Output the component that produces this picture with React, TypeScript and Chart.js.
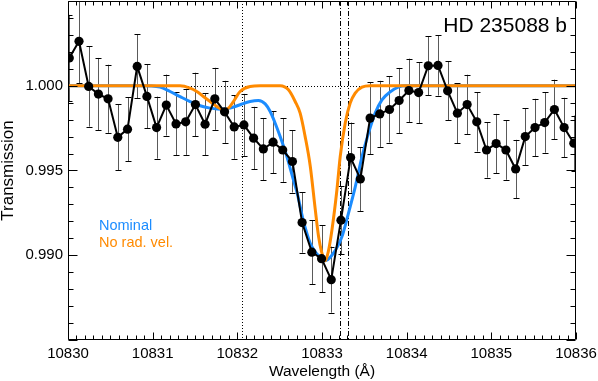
import React, { useEffect, useRef } from 'react';
import { Chart, registerables } from 'chart.js';

Chart.register(...registerables);

// Observed data (wavelength in Å, transmission, 1-sigma error)
const wavelength = [
  10830.015, 10830.130, 10830.244, 10830.359, 10830.473, 10830.588, 10830.703, 10830.817, 10830.932, 10831.046,
  10831.161, 10831.276, 10831.390, 10831.505, 10831.619, 10831.734, 10831.849, 10831.963, 10832.078, 10832.192,
  10832.307, 10832.422, 10832.536, 10832.651, 10832.765, 10832.880, 10832.995, 10833.109, 10833.224, 10833.338,
  10833.453, 10833.568, 10833.682, 10833.797, 10833.911, 10834.026, 10834.141, 10834.255, 10834.370, 10834.484,
  10834.599, 10834.714, 10834.828, 10834.943, 10835.057, 10835.172, 10835.287, 10835.401, 10835.516, 10835.630,
  10835.745, 10835.860, 10835.974,
];
const transmission = [
  1.00164, 1.00262, 0.99996, 0.99951, 0.99923, 0.99696, 0.99744, 1.00114, 0.99937, 0.99753,
  0.99886, 0.99775, 0.99787, 0.99889, 0.99773, 0.99923, 0.99846, 0.99757, 0.99769, 0.99691,
  0.99627, 0.99667, 0.99621, 0.99553, 0.99193, 0.99018, 0.98980, 0.98856, 0.99207, 0.99576,
  0.99450, 0.99809, 0.99834, 0.99860, 0.99913, 0.99972, 0.99960, 1.00118, 1.00120, 0.99970,
  0.99838, 0.99889, 0.99787, 0.99621, 0.99659, 0.99621, 0.99509, 0.99700, 0.99753, 0.99783,
  0.99860, 0.99753, 0.99661,
];
const transErr = [
  0.00254, 0.00248, 0.00237, 0.00213, 0.00201, 0.00195, 0.00189, 0.00189, 0.00189, 0.00183,
  0.00180, 0.00186, 0.00195, 0.00188, 0.00183, 0.00183, 0.00183, 0.00188, 0.00183, 0.00185,
  0.00183, 0.00183, 0.00188, 0.00183, 0.00178, 0.00188, 0.00197, 0.00195, 0.00201, 0.00207,
  0.00189, 0.00213, 0.00195, 0.00195, 0.00192, 0.00188, 0.00180, 0.00175, 0.00178, 0.00175,
  0.00178, 0.00176, 0.00175, 0.00163, 0.00175, 0.00176, 0.00172, 0.00167, 0.00170, 0.00178,
  0.00176, 0.00176, 0.00163,
];

// Model: Nominal
const nominalWave = [
  10830.000, 10830.851, 10831.087, 10831.206, 10831.324, 10831.442, 10831.560, 10831.678, 10831.797, 10831.915,
  10832.033, 10832.151, 10832.249, 10832.329, 10832.388, 10832.447, 10832.506, 10832.585, 10832.663, 10832.707,
  10832.778, 10832.861, 10832.943, 10833.026, 10833.117, 10833.235, 10833.313, 10833.392, 10833.472, 10833.550,
  10833.629, 10833.708, 10833.806, 10833.901, 10833.983, 10836.000,
];
const nominalTrans = [
  1.00000, 1.00000, 0.99992, 0.99966, 0.99936, 0.99907, 0.99882, 0.99868, 0.99862, 0.99868,
  0.99888, 0.99907, 0.99913, 0.99893, 0.99848, 0.99779, 0.99700, 0.99582, 0.99443, 0.99367,
  0.99207, 0.99071, 0.99006, 0.98967, 0.99000, 0.99109, 0.99249, 0.99402, 0.99580, 0.99722,
  0.99840, 0.99917, 0.99964, 0.99992, 1.00000, 1.00000,
];

// Model: No radial velocity
const noRvWave = [
  10830.000, 10831.324, 10831.442, 10831.521, 10831.599, 10831.678, 10831.758, 10831.829, 10831.895, 10831.954,
  10832.033, 10832.151, 10832.270, 10832.506, 10832.604, 10832.683, 10832.742, 10832.801, 10832.861, 10832.920,
  10832.959, 10832.996, 10833.038, 10833.073, 10833.117, 10833.176, 10833.215, 10833.274, 10833.333, 10833.392,
  10833.472, 10833.570, 10836.000,
];
const noRvTrans = [
  1.00000, 1.00000, 0.99986, 0.99966, 0.99937, 0.99907, 0.99877, 0.99858, 0.99868, 0.99907,
  0.99966, 0.99996, 1.00000, 1.00000, 0.99976, 0.99907, 0.99838, 0.99700, 0.99527, 0.99272,
  0.99112, 0.99018, 0.98967, 0.99018, 0.99148, 0.99385, 0.99582, 0.99779, 0.99898, 0.99957,
  0.99992, 1.00000, 1.00000,
];

// He I triplet line positions (Å)
const dottedLines = [10832.057];
const dashDotLines = [10833.217, 10833.306];

const xTickValues = [10830, 10831, 10832, 10833, 10834, 10835, 10836];
const yTickValues = [0.990, 0.995, 1.000];
const yTickLabels = ['0.990', '0.995', '1.000'];

const titleText = 'HD 235088 b';
const legendNames = ['Nominal', 'No rad. vel.'];
const BLUE = '#1b8cff';
const ORANGE = '#ff8a00';
const FONT = "'Liberation Sans', Arial, Helvetica, sans-serif";

const zeroPad = (s: any) => {
  s.paddingLeft = 0;
  s.paddingRight = 0;
  s.paddingTop = 0;
  s.paddingBottom = 0;
};

export default function App() {
  const ref = useRef<HTMLCanvasElement>(null);

  useEffect(() => {
    document.body.style.margin = '0';
    const canvas = ref.current;
    if (!canvas) return;

    const idlPlugin = {
      id: 'idlDecor',
      beforeDatasetsDraw(chart: any) {
        const { ctx, chartArea: a, scales } = chart;
        const x = scales.x;
        const y = scales.y;
        ctx.save();
        ctx.beginPath();
        ctx.rect(a.left, a.top, a.right - a.left, a.bottom - a.top);
        ctx.clip();
        ctx.strokeStyle = '#000';
        ctx.lineWidth = 1;
        // horizontal dotted at 1.000
        ctx.setLineDash([1, 2]);
        const y1 = Math.round(y.getPixelForValue(1)) + 0.5;
        ctx.beginPath();
        ctx.moveTo(a.left, y1);
        ctx.lineTo(a.right, y1);
        ctx.stroke();
        for (const w of dottedLines) {
          const px = Math.round(x.getPixelForValue(w)) + 0.5;
          ctx.beginPath();
          ctx.moveTo(px, a.top);
          ctx.lineTo(px, a.bottom);
          ctx.stroke();
        }
        ctx.setLineDash([5, 2, 1, 2]);
        for (const w of dashDotLines) {
          const px = Math.round(x.getPixelForValue(w)) + 0.5;
          ctx.beginPath();
          ctx.moveTo(px, a.top);
          ctx.lineTo(px, a.bottom);
          ctx.stroke();
        }
        ctx.setLineDash([]);
        // error bars
        for (let i = 0; i < wavelength.length; i++) {
          const px = Math.round(x.getPixelForValue(wavelength[i])) + 0.5;
          const top = y.getPixelForValue(transmission[i] + transErr[i]);
          const bot = y.getPixelForValue(transmission[i] - transErr[i]);
          ctx.strokeStyle = '#5a5a5a';
          ctx.beginPath();
          ctx.moveTo(px, top);
          ctx.lineTo(px, bot);
          ctx.stroke();
          ctx.strokeStyle = '#000';
          ctx.beginPath();
          const t = Math.round(top) + 0.5;
          const b = Math.round(bot) + 0.5;
          ctx.moveTo(px - 3, t);
          ctx.lineTo(px + 3, t);
          ctx.moveTo(px - 3, b);
          ctx.lineTo(px + 3, b);
          ctx.stroke();
        }
        ctx.restore();
      },
      afterDraw(chart: any) {
        const { ctx, chartArea: a, scales } = chart;
        const x = scales.x;
        const y = scales.y;
        ctx.save();
        ctx.strokeStyle = '#000';
        ctx.lineWidth = 1;
        const L = Math.round(a.left) + 0.5;
        const R = Math.round(a.right) - 0.5;
        const T = Math.round(a.top) + 0.5;
        const B = Math.round(a.bottom) - 0.5;
        ctx.beginPath();
        ctx.rect(L, T, R - L, B - T);
        ctx.stroke();
        ctx.beginPath();
        // x ticks (inward, top & bottom)
        for (let k = 0; k <= 60; k++) {
          const v = 10830 + k * 0.1;
          const px = Math.round(x.getPixelForValue(v)) + 0.5;
          const len = k % 10 === 0 ? 7 : 4;
          ctx.moveTo(px, B);
          ctx.lineTo(px, B - len);
          ctx.moveTo(px, T);
          ctx.lineTo(px, T + len);
        }
        // y ticks (inward, left & right)
        for (let k = 0; k <= 20; k++) {
          const v = 0.985 + k * 0.001;
          const py = Math.round(y.getPixelForValue(v)) + 0.5;
          const len = k % 5 === 0 ? 9 : 5;
          ctx.moveTo(L, py);
          ctx.lineTo(L + len, py);
          ctx.moveTo(R, py);
          ctx.lineTo(R - len, py);
        }
        ctx.stroke();
        // title
        ctx.fillStyle = '#000';
        ctx.font = `21px ${FONT}`;
        ctx.textAlign = 'right';
        ctx.textBaseline = 'alphabetic';
        ctx.fillText(titleText, 567, 32);
        // legend text
        ctx.font = `14.5px ${FONT}`;
        ctx.textAlign = 'left';
        ctx.fillStyle = BLUE;
        ctx.fillText(legendNames[0], 99, 229.5);
        ctx.fillStyle = ORANGE;
        ctx.fillText(legendNames[1], 99, 247);
        ctx.restore();
      },
    };

    const chart = new Chart(canvas, {
      type: 'line',
      data: {
        datasets: [
          {
            label: 'Data',
            data: wavelength.map((w, i) => ({ x: w, y: transmission[i] })),
            borderColor: '#000',
            backgroundColor: '#000',
            borderWidth: 2,
            pointRadius: 4.6,
            pointBorderWidth: 0,
            pointBackgroundColor: '#000',
            tension: 0,
          },
          {
            label: legendNames[1],
            data: noRvWave.map((w, i) => ({ x: w, y: noRvTrans[i] })),
            borderColor: ORANGE,
            borderWidth: 3,
            pointRadius: 0,
            cubicInterpolationMode: 'monotone',
          },
          {
            label: legendNames[0],
            data: nominalWave.map((w, i) => ({ x: w, y: nominalTrans[i] })),
            borderColor: BLUE,
            borderWidth: 3,
            pointRadius: 0,
            cubicInterpolationMode: 'monotone',
          },
        ],
      },
      options: {
        animation: false,
        responsive: false,
        devicePixelRatio: 1,
        layout: { autoPadding: false, padding: { top: 1, right: 22, left: 0, bottom: 0 } },
        plugins: { legend: { display: false }, tooltip: { enabled: false } },
        scales: {
          x: {
            type: 'linear',
            min: 10830,
            max: 10836,
            afterFit: (s: any) => { s.height = 41; zeroPad(s); },
            afterBuildTicks: (s: any) => { s.ticks = xTickValues.map((v) => ({ value: v })); },
            grid: { display: false, drawTicks: false },
            border: { display: false },
            ticks: {
              padding: 5,
              color: '#000',
              maxRotation: 0,
              font: { size: 15, family: FONT },
              callback: (v: any) => String(v),
            },
            title: {
              display: true,
              text: 'Wavelength (Å)',
              color: '#000',
              font: { size: 15.5, family: FONT, lineHeight: 1 },
              padding: { top: 0, bottom: 2 },
            },
          },
          y: {
            type: 'linear',
            min: 0.985,
            max: 1.005,
            afterFit: (s: any) => { s.width = 68; zeroPad(s); },
            afterBuildTicks: (s: any) => { s.ticks = yTickValues.map((v) => ({ value: v })); },
            grid: { display: false, drawTicks: false },
            border: { display: false },
            ticks: {
              padding: 5,
              color: '#000',
              font: { size: 15, family: FONT },
              callback: (v: any) => {
                const idx = yTickValues.findIndex((t) => Math.abs(t - v) < 1e-6);
                return idx >= 0 ? yTickLabels[idx] : '';
              },
            },
            title: {
              display: true,
              text: 'Transmission',
              color: '#000',
              font: { size: 17, family: FONT, lineHeight: 1 },
              padding: { top: 0, bottom: 0 },
            },
          },
        },
      },
      plugins: [idlPlugin],
    });

    return () => chart.destroy();
  }, []);

  return <canvas ref={ref} width={598} height={381} style={{ display: 'block' }} />;
}
